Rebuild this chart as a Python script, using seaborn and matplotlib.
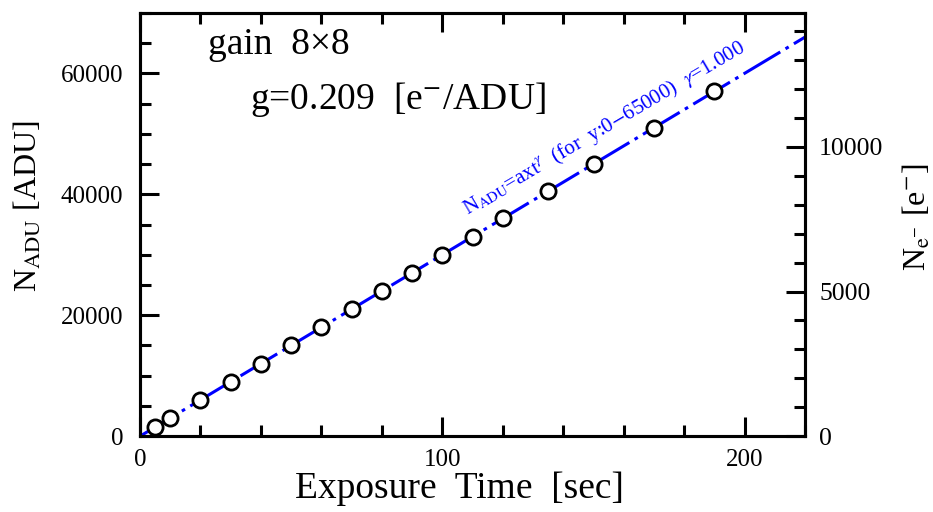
import matplotlib
matplotlib.use('Agg')
import matplotlib.pyplot as plt
import seaborn as sns
import numpy as np
import pandas as pd
from matplotlib.ticker import MultipleLocator

# data
exp_time = [5, 10, 20, 30, 40, 50, 60, 70, 80, 90, 100, 110, 120, 135, 150, 170, 190]
n_adu = [1500, 3000, 6000, 9000, 12000, 15000, 18000, 21000, 24000, 27000,
         30000, 33000, 36000, 40500, 45000, 51000, 57000]
fit_t = [0, 220]
fit_a = 300.0
fit_gamma = 1.000
gain = 0.209

sns.set_style('ticks')
plt.rcParams['font.family'] = ['Liberation Serif', 'DejaVu Serif']
plt.rcParams['mathtext.fontset'] = 'stix'
for k in ['text.color', 'axes.labelcolor', 'xtick.color', 'ytick.color', 'axes.edgecolor']:
    plt.rcParams[k] = 'black'

df_pts = pd.DataFrame({'t': exp_time, 'adu': n_adu})
df_fit = pd.DataFrame({'t': fit_t, 'adu': [fit_a * t ** fit_gamma for t in fit_t]})

fig = plt.figure(figsize=(9.33, 5.12), dpi=100)
ax = fig.add_axes([0.150, 0.148, 0.713, 0.827])

sns.lineplot(data=df_fit, x='t', y='adu', ax=ax, color='#0000ff', lw=2.2,
             dashes=False, zorder=2).lines[0].set_dashes((14, 2, 1.2, 2))
sns.scatterplot(data=df_pts, x='t', y='adu', ax=ax, marker='o', s=120,
                facecolor='white', edgecolor='black', linewidth=2.0, zorder=3)

ax.set_xlim(0, 220)
ax.set_ylim(0, 70000)
ax.xaxis.set_major_locator(MultipleLocator(100))
ax.xaxis.set_minor_locator(MultipleLocator(20))
ax.yaxis.set_major_locator(MultipleLocator(20000))
ax.yaxis.set_minor_locator(MultipleLocator(5000))

for s in ax.spines.values():
    s.set_linewidth(2.2)
ax.tick_params(which='both', direction='in', width=2.2, top=True, right=False,
               labelsize=18)
ax.tick_params(axis='y', pad=12)
ax.tick_params(axis='x', pad=9)
ax.tick_params(which='major', length=14)
ax.tick_params(which='minor', length=8)

ax.set_xlabel('Exposure  Time  [sec]', fontsize=27)
ax.xaxis.set_label_coords(0.48, -0.084, transform=ax.transAxes)
ax.xaxis.label.set_va('top')
ax.set_ylabel(r'N$_{\rm ADU}$ [ADU]', fontsize=23)
ax.yaxis.set_label_coords(-0.168, 0.544)
ax.yaxis.label.set_va('center')

ax2 = ax.twinx()
ax2.set_ylim(0, 70000 * gain)
ax2.yaxis.set_major_locator(MultipleLocator(5000))
ax2.yaxis.set_minor_locator(MultipleLocator(1000))
ax2.tick_params(which='both', direction='in', width=2.2, labelsize=18.5, pad=10)
ax2.tick_params(which='major', length=14)
ax2.tick_params(which='minor', length=8)
for s in ax2.spines.values():
    s.set_linewidth(2.2)
ax2.set_ylabel(r'N$_{\rm e^{-}}$ [e$^{-}$]', fontsize=23)
ax2.yaxis.set_label_coords(1.168, 0.518)
ax2.yaxis.label.set_va('center')

ax.text(0.103, 0.902, 'gain  8×8', transform=ax.transAxes, fontsize=27)
ax.text(0.165, 0.772, 'g=0.209  [e$^{-}$/ADU]', transform=ax.transAxes, fontsize=27)

ax.text(109.5, 35600, r'N$_{\rm ADU}$=axt$^{\gamma}$  (for  y:0$-$65000)  $\gamma$=1.000',
        fontsize=15, color='#0000ff', rotation=30.5, rotation_mode='anchor',
        ha='left', va='bottom')

fig.savefig('out.png', dpi=100)
